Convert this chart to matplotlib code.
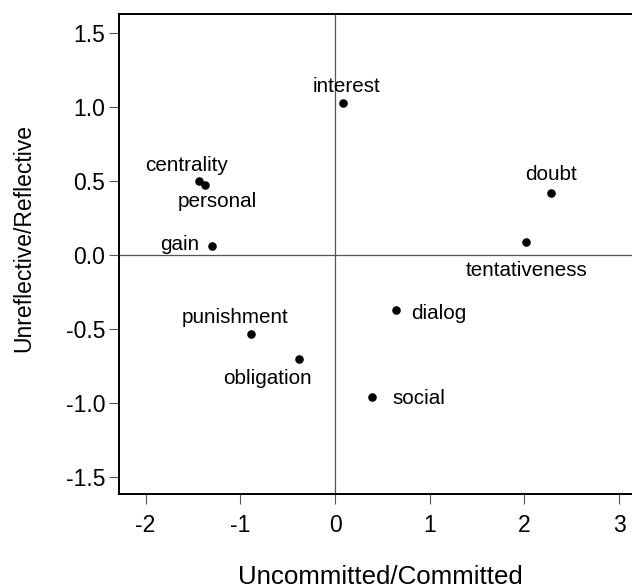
import matplotlib
matplotlib.use("Agg")
import matplotlib.pyplot as plt

plt.rcParams['font.family'] = ['Liberation Sans', 'DejaVu Sans']

names = ["interest", "doubt", "tentativeness", "centrality", "personal",
         "gain", "punishment", "obligation", "dialog", "social"]
x_vals = [0.08, 2.28, 2.02, -1.44, -1.37, -1.30, -0.89, -0.38, 0.64, 0.39]
y_vals = [1.03, 0.42, 0.09, 0.50, 0.475, 0.06, -0.53, -0.70, -0.37, -0.96]

x_ticks = [-2, -1, 0, 1, 2, 3]
y_ticks = [-1.5, -1.0, -0.5, 0.0, 0.5, 1.0, 1.5]
x_label = "Uncommitted/Committed"
y_label = "Unreflective/Reflective"

# label placement: (dx px, dy px, ha)
label_pos = {
    "interest": (4, 11, "center"),
    "doubt": (0, 13, "center"),
    "tentativeness": (0, -34, "center"),
    "centrality": (-12, 10, "center"),
    "personal": (12, -22, "center"),
    "gain": (-13, -4, "right"),
    "punishment": (-16, 11, "center"),
    "obligation": (-32, -25, "center"),
    "dialog": (16, -9, "left"),
    "social": (20, -7, "left"),
}

W, H, DPI = 632, 588, 100
fig = plt.figure(figsize=(W / DPI, H / DPI), dpi=DPI)
left = 119 / W
bottom = 1 - 494.3 / H
height = (494.3 - 14) / H
xlim = (-2.281, 3.6)
width = (xlim[1] - xlim[0]) * 94.7 / W
ax = fig.add_axes([left, bottom, width, height])
ax.set_xlim(*xlim)
ax.set_ylim(-1.615, 1.630)

ax.axhline(0, color='#555555', lw=0.9, zorder=1)
ax.axvline(0, color='#555555', lw=0.9, zorder=1)

ax.scatter(x_vals, y_vals, s=38, color='black', zorder=3, linewidths=0)
for n, xv, yv in zip(names, x_vals, y_vals):
    dx, dy, ha = label_pos[n]
    ax.annotate(n, (xv, yv), xytext=(dx, dy), textcoords='offset pixels',
                ha=ha, va='baseline', fontsize=14.9, color='black')

ax.set_xticks(x_ticks)
ax.set_xticklabels([f"{t:g}" for t in x_ticks])
ax.set_yticks(y_ticks)
ax.set_yticklabels([f"{t:.1f}" for t in y_ticks])
ax.tick_params(axis='both', direction='out', length=7.5, width=0.8,
               color='#555555', labelsize=16.5, labelcolor='black')
ax.tick_params(axis='x', pad=6.5)
ax.tick_params(axis='y', pad=2.5)

for s in ['left', 'top', 'bottom']:
    ax.spines[s].set_linewidth(1.4)
    ax.spines[s].set_color('black')
ax.spines['right'].set_visible(False)

fig.text(380.8 / W, 1 - 584 / H, x_label, ha='center', va='baseline', fontsize=18.6)
fig.text(24 / W, 1 - 238 / H, y_label, ha='center', va='center', rotation=90, fontsize=16.5)

fig.savefig("out.png", dpi=DPI)
